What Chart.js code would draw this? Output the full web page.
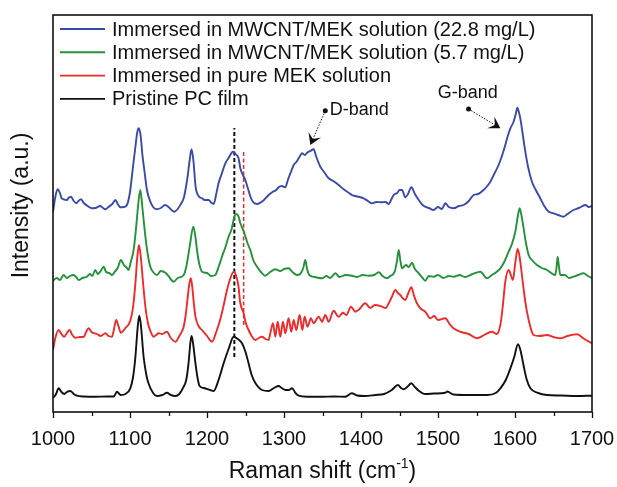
<!DOCTYPE html>
<html>
<head>
<meta charset="utf-8">
<script src="https://cdn.jsdelivr.net/npm/chart.js@4.4.1/dist/chart.umd.min.js"></script>
<style>
  body { margin: 0; background: #fff; }
  canvas { display: block; }
</style>
</head>
<body>
<canvas id="ramanChart" width="617" height="487"></canvas>
<script>
// series names, top to bottom as in the legend
const seriesLabels = [
    'Immersed in MWCNT/MEK solution (22.8 mg/L)',
    'Immersed in MWCNT/MEK solution (5.7 mg/L)',
    'Immersed in pure MEK solution',
    'Pristine PC film'
];
const seriesColors = ['#3a4aa8', '#23923a', '#ee2b2b', '#111111'];

// x tick labels every 100 cm-1, minor ticks every 50
const xTicks = [1000, 1100, 1200, 1300, 1400, 1500, 1600, 1700];

// Pristine PC film (offset intensity, a.u.)
const pristineX = [1000, 1004, 1007.3, 1011, 1014.7, 1018, 1022.5, 1027, 1031, 1040, 1055, 1070, 1079, 1083, 1088, 1094, 1100.4, 1104, 1107, 1110, 1112, 1114, 1117.7, 1121, 1124, 1130, 1135, 1142, 1148, 1153, 1159, 1164, 1169.7, 1173, 1176, 1178.5, 1180, 1182, 1185, 1188, 1190.4, 1196, 1204, 1208.6, 1215, 1221.6, 1228, 1234.6, 1240, 1245.5, 1250, 1254, 1258, 1263, 1271.4, 1280, 1287, 1293, 1297, 1302, 1306, 1310.4, 1315, 1319, 1330, 1350, 1365, 1379.7, 1388, 1395, 1405, 1418.6, 1430, 1440, 1448, 1452, 1455.4, 1460, 1465.4, 1470, 1475, 1483.5, 1495, 1509.5, 1512, 1520, 1540, 1563.6, 1575, 1581, 1588, 1594, 1599, 1603.8, 1607, 1611, 1615, 1620, 1630, 1641.5, 1660, 1680, 1700];
const pristineY = [14, 18, 23.7, 20, 18, 20, 21, 18, 16.3, 15.5, 15.3, 15.5, 15.5, 20.3, 17, 18, 23.7, 35, 55, 85, 96.3, 88, 55, 38, 28.7, 19, 16, 17, 19.3, 17, 16, 18, 25.3, 32, 48.7, 70, 76, 68, 48.7, 33, 26, 24, 22, 21, 32, 48.7, 63, 75.3, 73, 68.7, 60, 48.7, 37, 28.7, 22, 21, 24, 26, 24, 22, 22, 23.7, 19, 16.3, 15.3, 15.3, 15.5, 15.3, 18.7, 16.5, 16, 17, 18, 22, 27, 24, 22.7, 25, 28.7, 25, 21.3, 18, 18.5, 19.3, 20.5, 17.5, 17, 17, 19, 23.7, 32, 43.7, 55, 67.7, 62, 47, 33, 23.7, 19, 17, 16.5, 16, 16.3];

// Immersed in pure MEK solution
const mekX = [1000, 1003, 1007.3, 1011, 1014.7, 1018, 1021.6, 1025, 1029, 1035, 1040, 1043, 1046.3, 1050, 1057, 1062, 1068, 1072, 1076.6, 1079, 1082, 1085, 1088, 1094, 1100.4, 1104, 1107, 1109.5, 1111.6, 1114, 1117, 1120, 1123.3, 1127, 1130.7, 1134, 1137, 1142, 1148, 1153, 1159, 1164, 1169.7, 1172.5, 1175, 1177, 1179, 1181, 1183, 1185, 1189, 1193.5, 1200, 1206.5, 1212, 1217, 1222, 1226, 1230, 1234.6, 1238, 1241, 1243, 1247.6, 1250, 1254, 1258, 1263, 1267, 1271.4, 1276, 1280, 1282.2, 1285.7, 1288.7, 1291.8, 1295.2, 1298.7, 1301.7, 1306, 1309.5, 1312.5, 1316, 1320.3, 1323.8, 1326.8, 1330.6, 1335, 1338.4, 1345, 1349.4, 1353.6, 1358, 1364.4, 1370.9, 1376.6, 1380.9, 1387, 1392.6, 1396.9, 1405.6, 1412, 1418, 1427.3, 1432, 1436, 1440, 1444.6, 1448, 1451, 1454, 1457.6, 1461, 1465.4, 1469, 1472.7, 1478, 1483.5, 1490, 1495, 1500, 1509.5, 1515, 1520, 1530, 1540, 1550.6, 1560, 1570, 1576, 1581, 1584, 1587.4, 1591.7, 1595, 1597.3, 1600.5, 1603.4, 1606, 1609, 1612, 1615.5, 1620, 1624, 1632, 1641.5, 1650, 1658.8, 1668, 1680.5, 1690, 1700];
const mekY = [62, 74, 82, 78, 75.3, 79, 82, 77, 74.3, 75, 75.3, 80, 83.7, 80, 78, 76, 78.7, 76, 75.3, 82, 92, 86, 79.3, 84, 91.3, 105, 128.7, 155, 167, 155, 128.7, 105, 88.7, 80, 75.3, 77, 78.7, 78, 80.3, 74, 70.3, 76, 85.3, 98, 115.3, 128, 133.7, 124, 108, 95.3, 86, 82, 76, 70.3, 80, 92, 108, 122, 133, 140.3, 136, 125, 110, 98.7, 90, 82, 76, 72, 74, 75.3, 73, 72, 78.7, 88.7, 75.3, 90.3, 75.3, 90.3, 78.7, 93.7, 80.3, 92, 82, 97, 82, 95.3, 85.3, 93.7, 88.7, 95.3, 90.3, 97, 90.3, 101.3, 95.3, 99.3, 97, 105.3, 100.3, 102, 108.7, 104, 107, 105.3, 104, 108.7, 115, 122, 119, 117, 114, 112, 118, 124.7, 116, 108.7, 103, 100.3, 93.7, 96, 92, 93.7, 88, 83.7, 80, 78, 73.7, 77, 80.3, 78, 87, 105, 130.3, 142, 136, 132, 150, 163, 155, 137, 118, 100.3, 85, 77, 76, 77, 75, 73.7, 76, 77.7, 73, 68.7];

// Immersed in MWCNT/MEK solution (5.7 mg/L)
const low5X = [1000, 1005, 1009, 1013.8, 1018, 1022, 1026.8, 1030, 1033.3, 1038, 1044, 1048, 1051, 1055, 1058, 1062, 1065.8, 1069, 1073, 1076.6, 1080, 1084, 1088.3, 1092, 1095, 1098, 1101, 1104.7, 1108, 1111, 1113.4, 1116, 1120, 1123, 1126.4, 1130, 1135, 1140, 1146, 1150, 1156.7, 1162, 1169.7, 1173, 1177.5, 1182.2, 1185, 1187, 1190, 1193.5, 1200, 1205, 1210.8, 1215, 1219.4, 1224, 1228, 1232, 1235.5, 1238, 1241, 1243.3, 1247, 1250, 1253, 1256.3, 1260, 1265, 1270, 1275.8, 1282, 1288.7, 1295, 1300, 1306, 1311, 1316.9, 1321, 1325, 1327.7, 1330, 1333, 1340, 1349.4, 1355, 1360, 1366.7, 1372, 1380, 1388.3, 1395, 1402, 1410, 1417, 1423, 1428, 1433.8, 1438, 1443.7, 1446.5, 1449, 1451, 1453.3, 1458.4, 1462, 1466.2, 1470, 1475, 1480, 1483.5, 1488, 1494.3, 1500, 1507, 1514, 1520.3, 1528, 1535, 1545, 1555, 1563.6, 1570, 1576, 1581, 1586, 1591.7, 1596, 1600.4, 1603.5, 1606, 1608.5, 1611.2, 1614, 1617.7, 1622, 1628.5, 1635, 1641.5, 1647, 1652.3, 1654, 1655.4, 1657, 1658.8, 1665, 1670, 1676, 1682, 1689, 1695, 1700];
const low5Y = [131.3, 134, 132, 137, 134, 136, 137, 135, 132, 134, 135.3, 138, 136, 142, 138, 141, 145.3, 140, 139, 137, 140, 144, 152, 147, 145, 142, 150, 162, 185, 210, 222, 205, 175.3, 158, 145.3, 140, 137, 141, 139.3, 136, 130.3, 134, 137, 145, 165.3, 185.3, 175, 162, 148, 140.3, 139, 136, 137, 145, 155.3, 165, 175.3, 183, 195.3, 198, 195.3, 188.7, 182, 175.3, 168, 162, 152, 145.3, 140, 136.3, 140, 142.7, 141, 143, 143.7, 140, 137, 138, 144, 152, 143, 137, 135, 133.7, 136, 134, 138.7, 135, 137, 136.3, 135, 137, 136.3, 137, 139.7, 136, 133.7, 136, 140.3, 150, 162, 152, 143.7, 147, 145, 149.3, 143, 138.7, 134, 131.3, 136, 135.3, 137, 134, 136, 135.3, 137, 135, 138, 140.3, 133.7, 137, 140, 143.7, 150, 160.3, 168, 180.3, 195, 203.7, 196, 183.7, 170, 157, 152, 147, 144, 142, 139, 137, 145, 155.3, 146, 137, 137, 134, 135.3, 137, 138.7, 136, 133.7];

// Immersed in MWCNT/MEK solution (22.8 mg/L)
const high22X = [1000, 1003, 1006, 1009, 1011, 1013.8, 1018, 1020, 1023.3, 1027, 1030.3, 1033, 1036.3, 1040, 1045, 1050.6, 1055, 1061.4, 1065, 1068, 1072, 1077, 1081, 1084, 1087.4, 1092, 1096, 1100, 1103.9, 1107, 1109.5, 1111.6, 1114, 1116, 1118.6, 1122, 1126.4, 1130, 1135, 1140, 1145.8, 1150, 1157.5, 1162, 1166, 1169.7, 1172, 1174.8, 1177.5, 1180, 1182.5, 1185.2, 1189, 1193.5, 1197, 1202, 1206, 1208.6, 1212, 1215, 1219, 1223.8, 1228, 1231, 1233.7, 1237, 1241, 1243.3, 1246, 1249.8, 1253, 1257, 1260.6, 1265, 1269.3, 1274, 1280, 1285, 1290, 1293, 1297, 1301.7, 1305, 1309, 1312.6, 1316, 1320, 1323.4, 1327, 1330, 1334, 1338.5, 1342, 1347.2, 1352, 1358, 1364, 1371, 1377, 1384, 1388, 1392.6, 1398, 1403.5, 1409, 1414.3, 1420, 1427.3, 1432, 1436, 1439, 1442.4, 1447, 1450, 1453.2, 1457.6, 1461, 1465.4, 1470, 1475, 1480, 1483.5, 1488, 1494.3, 1500, 1505, 1509.5, 1514, 1520.3, 1527, 1533.3, 1540, 1546.3, 1552, 1559.2, 1564, 1568, 1573, 1578.7, 1583, 1587.4, 1591, 1594, 1598.2, 1601, 1603, 1605, 1606.9, 1610, 1613.4, 1617, 1622, 1627, 1632.8, 1638, 1643.7, 1650, 1656, 1663, 1668, 1676, 1683, 1691.3, 1696, 1700];
const high22Y = [200, 215, 222.7, 219, 214, 212.7, 212, 214, 215.3, 211, 208.7, 211, 212.7, 209, 206, 203.7, 204, 206, 204, 202.7, 205, 208, 212, 208, 204.7, 205, 207, 220, 245.3, 265, 280, 283.7, 275, 258, 242, 222, 210.3, 205, 202.7, 204, 207, 205, 200.3, 203, 208, 213.7, 222, 235.3, 252, 262.7, 250, 225.3, 216, 213.7, 212, 212, 209, 208, 218, 228.7, 238, 248.7, 254, 258, 260.3, 258, 253.7, 243.7, 238, 232, 224, 214, 209.3, 208, 209.3, 212, 217, 220, 222, 224.7, 226, 224.7, 232, 240, 247, 250, 255, 258.7, 257, 259.3, 261, 262.7, 255, 245.3, 240, 233.7, 231, 227, 223, 219.3, 217, 216, 215, 213.7, 211, 208.7, 210, 209.7, 210, 208, 212, 217, 219, 222, 222, 214.7, 218, 224.7, 218, 212, 207, 205.3, 204, 202, 205, 203, 208.7, 205, 203.7, 206, 207, 211, 217, 218, 222, 226, 230.3, 238, 247, 256, 267, 277, 283.7, 290.3, 298, 304.3, 300, 293.7, 278, 260.3, 245, 230.3, 222, 213.7, 206, 200.3, 198.7, 197, 195.3, 198, 202, 204, 207, 205, 206.3];

// reference lines at the PC band position and the shifted MEK band
const pcBandX = 1235.5;
const pcBandY = [55, 284];
const mekBandX = 1247.6;
const mekBandY = [87, 261];

function toPoints(xs, ys) {
    return xs.map((x, i) => ({ x: x, y: ys[i] }));
}

function spectrum(label, xs, ys, color) {
    return {
        label: label,
        data: toPoints(xs, ys),
        borderColor: color,
        borderWidth: 1.9,
        pointRadius: 0,
        cubicInterpolationMode: 'monotone',
        fill: false
    };
}

function arrowTo(ctx, x1, y1, x2, y2) {
    ctx.save();
    ctx.strokeStyle = '#111';
    ctx.fillStyle = '#111';
    ctx.lineWidth = 1;
    ctx.setLineDash([1.5, 1.5]);
    const ang = Math.atan2(y2 - y1, x2 - x1);
    const headLen = 13;
    ctx.beginPath();
    ctx.moveTo(x1, y1);
    ctx.lineTo(x2 - Math.cos(ang) * headLen * 0.5, y2 - Math.sin(ang) * headLen * 0.5);
    ctx.stroke();
    ctx.setLineDash([]);
    ctx.beginPath();
    ctx.arc(x1, y1, 2.5, 0, Math.PI * 2);
    ctx.fill();
    // arrow head with notch
    ctx.beginPath();
    ctx.moveTo(x2, y2);
    ctx.lineTo(x2 - headLen * Math.cos(ang - 0.55), y2 - headLen * Math.sin(ang - 0.55));
    ctx.lineTo(x2 - headLen * 0.5 * Math.cos(ang), y2 - headLen * 0.5 * Math.sin(ang));
    ctx.lineTo(x2 - headLen * Math.cos(ang + 0.55), y2 - headLen * Math.sin(ang + 0.55));
    ctx.closePath();
    ctx.fill();
    ctx.restore();
}

const decorPlugin = {
    id: 'decor',
    afterDatasetsDraw(chart) {
        const ctx = chart.ctx;
        const area = chart.chartArea;
        const xs = chart.scales.x;
        const ys = chart.scales.y;
        ctx.save();

        // frame
        ctx.strokeStyle = '#111';
        ctx.lineWidth = 1.6;
        ctx.strokeRect(area.left, area.top, area.right - area.left, area.bottom - area.top);

        // outward ticks on the bottom axis
        ctx.lineWidth = 1.3;
        for (let v = 1000; v <= 1700; v += 50) {
            const px = Math.round(xs.getPixelForValue(v)) + 0.5;
            const len = v % 100 === 0 ? 6 : 4;
            ctx.beginPath();
            ctx.moveTo(px, area.bottom);
            ctx.lineTo(px, area.bottom + len);
            ctx.stroke();
        }

        // legend inside the plot
        ctx.font = '20px "Liberation Sans", Arial, sans-serif';
        ctx.textBaseline = 'middle';
        ctx.textAlign = 'left';
        seriesLabels.forEach((label, i) => {
            const y = area.top + 14 + i * 23.3;
            ctx.strokeStyle = seriesColors[i];
            ctx.lineWidth = 1.9;
            ctx.beginPath();
            ctx.moveTo(area.left + 7, y);
            ctx.lineTo(area.left + 52, y);
            ctx.stroke();
            ctx.fillStyle = '#111';
            ctx.fillText(label, area.left + 59, y + 1);
        });

        // band annotations
        ctx.font = '18px "Liberation Sans", Arial, sans-serif';
        ctx.fillStyle = '#111';
        ctx.fillText('D-band', xs.getPixelForValue(1359.3), ys.getPixelForValue(302));
        ctx.textAlign = 'center';
        ctx.fillText('G-band', xs.getPixelForValue(1538.6), ys.getPixelForValue(318.7));
        arrowTo(ctx, xs.getPixelForValue(1353.6), ys.getPixelForValue(301.3),
                xs.getPixelForValue(1334.2), ys.getPixelForValue(267));
        arrowTo(ctx, xs.getPixelForValue(1539.7), ys.getPixelForValue(303),
                xs.getPixelForValue(1581), ys.getPixelForValue(283.7));

        // axis titles
        ctx.fillStyle = '#111';
        ctx.textAlign = 'left';
        ctx.textBaseline = 'alphabetic';
        const bigFont = '23px "Liberation Sans", Arial, sans-serif';
        const supFont = '14px "Liberation Sans", Arial, sans-serif';
        ctx.font = bigFont;
        const part1 = 'Raman shift (cm';
        const w1 = ctx.measureText(part1).width;
        const w3 = ctx.measureText(')').width;
        ctx.font = supFont;
        const w2 = ctx.measureText('-1').width;
        const cx = (area.left + area.right) / 2;
        let tx = cx - (w1 + w2 + w3) / 2;
        const base = 478;
        ctx.font = bigFont;
        ctx.fillText(part1, tx, base);
        ctx.font = supFont;
        ctx.fillText('-1', tx + w1, base - 10);
        ctx.font = bigFont;
        ctx.fillText(')', tx + w1 + w2, base);

        ctx.translate(22, (area.top + area.bottom) / 2 - 8);
        ctx.rotate(-Math.PI / 2);
        ctx.textAlign = 'center';
        ctx.textBaseline = 'middle';
        ctx.fillText('Intensity (a.u.)', 0, 0);
        ctx.restore();
    }
};

document.addEventListener('DOMContentLoaded', function() {
    const ctx = document.getElementById('ramanChart');

    const datasets = [
        spectrum(seriesLabels[0], high22X, high22Y, seriesColors[0]),
        spectrum(seriesLabels[1], low5X, low5Y, seriesColors[1]),
        spectrum(seriesLabels[2], mekX, mekY, seriesColors[2]),
        spectrum(seriesLabels[3], pristineX, pristineY, seriesColors[3]),
        {
            label: 'PC band',
            data: toPoints([pcBandX, pcBandX], pcBandY),
            borderColor: '#111',
            borderWidth: 2,
            borderDash: [4, 2.5],
            pointRadius: 0
        },
        {
            label: 'MEK band',
            data: toPoints([mekBandX, mekBandX], mekBandY),
            borderColor: '#ee2b2b',
            borderWidth: 1.5,
            borderDash: [4, 2.5],
            pointRadius: 0
        }
    ];

    new Chart(ctx, {
        type: 'line',
        data: { datasets: datasets },
        options: {
            responsive: false,
            animation: false,
            devicePixelRatio: 1,
            layout: { padding: { top: 15, right: 25, left: 0, bottom: 0 } },
            plugins: {
                legend: { display: false },
                tooltip: { enabled: false }
            },
            scales: {
                x: {
                    type: 'linear',
                    min: 1000,
                    max: 1700,
                    afterFit: function(scale) {
                        scale.height = 75;
                        scale.paddingLeft = 0;
                        scale.paddingRight = 0;
                    },
                    afterBuildTicks: function(scale) {
                        scale.ticks = xTicks.map(v => ({ value: v }));
                    },
                    ticks: {
                        autoSkip: false,
                        maxRotation: 0,
                        padding: 9,
                        color: '#111',
                        font: { family: '"Liberation Sans", Arial, sans-serif', size: 20 },
                        callback: function(value) { return String(value); }
                    },
                    grid: {
                        display: true,
                        drawOnChartArea: false,
                        drawTicks: true,
                        tickLength: 6,
                        color: 'rgba(0,0,0,0)'
                    },
                    border: { display: false }
                },
                y: {
                    min: 0,
                    max: 397,
                    afterFit: function(scale) { scale.width = 53; },
                    ticks: { display: false },
                    grid: { display: false },
                    border: { display: false }
                }
            }
        },
        plugins: [decorPlugin]
    });
});
</script>
</body>
</html>
